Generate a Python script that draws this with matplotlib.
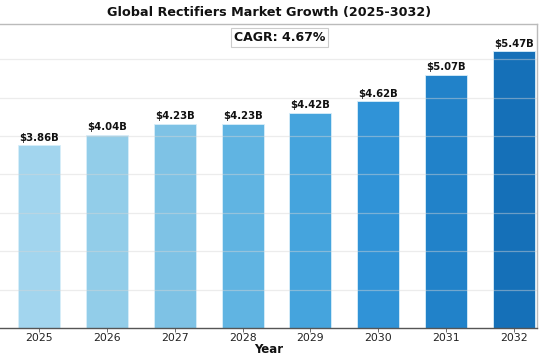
import matplotlib
matplotlib.use('Agg')
import matplotlib.pyplot as plt
from matplotlib.colors import LinearSegmentedColormap
from matplotlib.ticker import MultipleLocator
import numpy as np

# Market data (billions USD)
years = ['2025', '2026', '2027', '2028', '2029', '2030', '2031', '2032']
market_size = [3.86, 4.04, 4.23, 4.23, 4.42, 4.62, 5.07, 5.47]
cagr = 4.67

fig = plt.figure(figsize=(5.4, 3.6), dpi=100)
ax = fig.add_axes([0.0, 0.09, 0.995, 0.843])

# light to dark blue gradient across the bars
cmap = LinearSegmentedColormap.from_list(
    'rect_blues', ['#a2d5ee', '#86c6e6', '#50ade0', '#2a8fd6', '#1570b8'])
colors = cmap(np.linspace(0, 1, len(years)))

x = np.arange(len(years))
bars = ax.bar(x, market_size, width=0.62, color=colors,
              edgecolor='#d8eef9', linewidth=0.6, zorder=2)

# value labels on top of the bars
for bar, val in zip(bars, market_size):
    ax.text(bar.get_x() + bar.get_width() / 2, bar.get_height() + 0.04,
            f'${val:.2f}B', ha='center', va='bottom',
            fontsize=7.3, fontweight='bold', color='#111111')

ax.set_xticks(x)
ax.set_xticklabels(years, fontsize=7.8, color='#222222')
ax.set_xlim(-0.575, 7.345)
ax.set_ylim(0.73, 5.94)

# faint grid, drawn over the bars
ax.yaxis.set_major_locator(MultipleLocator(0.66, offset=0.06))
ax.yaxis.grid(True, color='#d6d6d6', linewidth=0.9, alpha=0.45, zorder=3)
ax.set_axisbelow(False)
ax.tick_params(axis='y', left=False, labelleft=False)
ax.tick_params(axis='x', length=3, width=0.6, color='#555555', pad=1)

ax.spines['left'].set_visible(False)
for side in ['top', 'right']:
    ax.spines[side].set_color('#bbbbbb')
    ax.spines[side].set_linewidth(1.0)
ax.spines['bottom'].set_color('#555555')
ax.spines['bottom'].set_linewidth(1.0)

ax.set_title('Global Rectifiers Market Growth (2025-3032)',
             fontsize=9.2, fontweight='bold', color='#111111', pad=6)
ax.set_xlabel('Year', fontsize=8.5, fontweight='bold', color='#111111', labelpad=0)

ax.text(0.52, 0.955, f'CAGR: {cagr:.2f}%', transform=ax.transAxes,
        ha='center', va='center', fontsize=9, fontweight='bold', color='#111111',
        bbox=dict(boxstyle='square,pad=0.25', facecolor='white',
                  edgecolor='#cccccc', linewidth=0.8), zorder=5)

plt.savefig('out.png', dpi=100)
plt.close()
